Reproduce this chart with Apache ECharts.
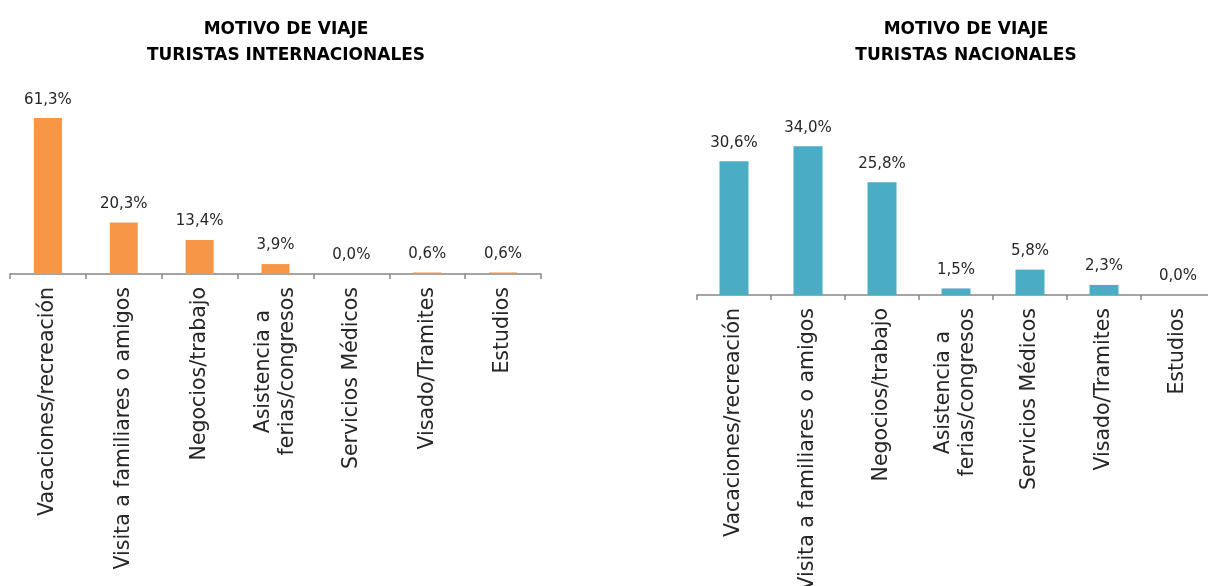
<!DOCTYPE html>
<html>
<head>
<meta charset="utf-8">
<script src="https://cdn.jsdelivr.net/npm/echarts@6/dist/echarts.min.js"></script>
<style>
  html, body { margin: 0; padding: 0; background: #ffffff; }
  #chart { width: 1208px; height: 586px; }
</style>
</head>
<body>
<div id="chart"></div>
<script>
// Trip purpose categories (shared by both panels)
const categories = [
  'Vacaciones/recreación',
  'Visita a familiares o amigos',
  'Negocios/trabajo',
  'Asistencia a\nferias/congresos',
  'Servicios Médicos',
  'Visado/Tramites',
  'Estudios'
];

// Share of tourists by purpose (%)
const internacionales = [61.3, 20.3, 13.4, 3.9, 0.0, 0.6, 0.6];
const nacionales = [30.6, 34.0, 25.8, 1.5, 5.8, 2.3, 0.0];

const titleIntl = 'MOTIVO DE VIAJE\nTURISTAS INTERNACIONALES';
const titleNac = 'MOTIVO DE VIAJE\nTURISTAS NACIONALES';

const FONT = '"DejaVu Sans", sans-serif';
const CAT_SIZE = 20.5;
const TEXT_COLOR = '#262626';
const AXIS_COLOR = '#868686';

const fmtPct = p => p.value.toFixed(1).replace('.', ',') + '%';

// Multi-line category names are centred line by line: each shorter line gets a
// blank spacer token on its axis side worth half the width difference.
const measureCtx = document.createElement('canvas').getContext('2d');
measureCtx.font = CAT_SIZE + 'px ' + FONT;
const textW = s => measureCtx.measureText(s).width;

const labelRich = {};
const labelText = {};
categories.forEach((cat, ci) => {
  const lines = cat.split('\n');
  if (lines.length < 2) { labelText[cat] = cat; return; }
  const maxW = Math.max.apply(null, lines.map(textW));
  labelText[cat] = lines.map((line, li) => {
    const pad = Math.round((maxW - textW(line)) / 2);
    const key = 't' + ci + '_' + li;
    const padKey = 'p' + ci + '_' + li;
    labelRich[key] = { fontFamily: FONT, fontSize: CAT_SIZE, color: TEXT_COLOR, lineHeight: 24 };
    if (pad > 0) {
      labelRich[padKey] = { width: pad, fontFamily: FONT, fontSize: CAT_SIZE, lineHeight: 24 };
      return '{' + key + '|' + line + '}{' + padKey + '| }';
    }
    return '{' + key + '|' + line + '}';
  }).join('\n');
});

function categoryAxis(gridIndex) {
  return {
    type: 'category',
    gridIndex: gridIndex,
    data: categories,
    boundaryGap: true,
    axisLine: { show: true, lineStyle: { color: AXIS_COLOR, width: 1.5 } },
    axisTick: { show: true, alignWithLabel: false, length: 5, lineStyle: { color: AXIS_COLOR, width: 1.5 } },
    axisLabel: {
      rotate: 90,
      interval: 0,
      margin: 13,
      fontFamily: FONT,
      fontSize: CAT_SIZE,
      color: TEXT_COLOR,
      lineHeight: 24,
      formatter: v => labelText[v],
      rich: labelRich
    }
  };
}

function valueAxis(gridIndex, max) {
  return {
    type: 'value',
    gridIndex: gridIndex,
    min: 0,
    max: max,
    show: false,
    splitLine: { show: false }
  };
}

function barSeries(idx, data, color, width) {
  return {
    type: 'bar',
    xAxisIndex: idx,
    yAxisIndex: idx,
    data: data,
    barWidth: width,
    itemStyle: { color: color },
    label: {
      show: true,
      position: 'top',
      distance: 11,
      formatter: fmtPct,
      fontFamily: FONT,
      fontSize: 15,
      color: TEXT_COLOR
    }
  };
}

const titleStyle = { fontFamily: FONT, fontWeight: 'bold', fontSize: 17, color: '#000000', lineHeight: 26 };

const chart = echarts.init(document.getElementById('chart'), null, { renderer: 'canvas' });

chart.setOption({
  backgroundColor: '#ffffff',
  animation: false,
  title: [
    { text: titleIntl, left: 281, top: 12, textAlign: 'center', textStyle: titleStyle },
    { text: titleNac, left: 961, top: 12, textAlign: 'center', textStyle: titleStyle }
  ],
  grid: [
    { left: 10, width: 531, top: 96, height: 178, containLabel: false, outerBoundsMode: 'none' },
    { left: 697, width: 518, top: 120, height: 175, containLabel: false, outerBoundsMode: 'none' }
  ],
  xAxis: [categoryAxis(0), categoryAxis(1)],
  yAxis: [valueAxis(0, 70), valueAxis(1, 40)],
  series: [
    barSeries(0, internacionales, '#F79646', 28),
    barSeries(1, nacionales, '#4BACC6', 29)
  ]
});
</script>
</body>
</html>
